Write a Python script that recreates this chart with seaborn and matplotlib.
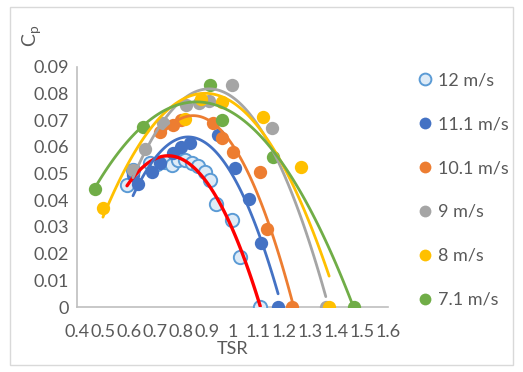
import matplotlib
matplotlib.use("Agg")
import matplotlib.pyplot as plt
from matplotlib.lines import Line2D
from matplotlib.patches import Rectangle
from matplotlib.ticker import FixedLocator, FuncFormatter
import numpy as np
import pandas as pd
import seaborn as sns

# Power coefficient vs tip speed ratio, one series per wind speed
tsr_12 = [0.593, 0.616, 0.682, 0.709, 0.740, 0.767, 0.790, 0.817, 0.844, 0.867, 0.894, 0.913, 0.937, 0.998, 1.029, 1.107]
cp_12 = [0.0457, 0.0514, 0.0540, 0.0536, 0.0544, 0.0532, 0.0551, 0.0551, 0.0540, 0.0529, 0.0506, 0.0476, 0.0386, 0.0326, 0.0187, 0.0]

tsr_111 = [0.616, 0.635, 0.690, 0.720, 0.770, 0.800, 0.836, 0.944, 1.010, 1.064, 1.110, 1.176]
cp_111 = [0.0495, 0.0460, 0.0505, 0.0540, 0.0575, 0.0600, 0.0615, 0.0645, 0.0520, 0.0405, 0.0240, 0.0]

tsr_101 = [0.720, 0.770, 0.800, 0.925, 0.960, 1.000, 1.107, 1.133, 1.230]
cp_101 = [0.0655, 0.0680, 0.0700, 0.0690, 0.0634, 0.0580, 0.0505, 0.0292, 0.0]

tsr_9 = [0.616, 0.663, 0.730, 0.820, 0.870, 0.910, 0.998, 1.153, 1.360]
cp_9 = [0.0514, 0.0592, 0.0690, 0.0755, 0.0765, 0.0770, 0.0832, 0.0671, 0.0]

tsr_8 = [0.500, 0.817, 0.880, 0.960, 1.118, 1.265, 1.373]
cp_8 = [0.0371, 0.0705, 0.0780, 0.0769, 0.0712, 0.0525, 0.0]

tsr_71 = [0.469, 0.655, 0.913, 0.960, 1.157, 1.470]
cp_71 = [0.0442, 0.0675, 0.0832, 0.0701, 0.0562, 0.0]

speeds = ["12 m/s", "11.1 m/s", "10.1 m/s", "9 m/s", "8 m/s", "7.1 m/s"]
tsr_all = [tsr_12, tsr_111, tsr_101, tsr_9, tsr_8, tsr_71]
cp_all = [cp_12, cp_111, cp_101, cp_9, cp_8, cp_71]

marker_face = ["#DEEBF7", "#4472C4", "#ED7D31", "#A5A5A5", "#FFC000", "#70AD47"]
marker_edge = ["#5B9BD5", "#4472C4", "#ED7D31", "#A5A5A5", "#FFC000", "#70AD47"]
trend_color = ["#FF0000", "#4472C4", "#ED7D31", "#A5A5A5", "#FFC000", "#70AD47"]

x_ticks = [0.4, 0.5, 0.6, 0.7, 0.8, 0.9, 1.0, 1.1, 1.2, 1.3, 1.4, 1.5, 1.6]
y_ticks = [0, 0.01, 0.02, 0.03, 0.04, 0.05, 0.06, 0.07, 0.08, 0.09]

df = pd.concat(
    [pd.DataFrame({"TSR": t, "Cp": c, "speed": s}) for t, c, s in zip(tsr_all, cp_all, speeds)],
    ignore_index=True,
)

sns.set_theme(style="white")
plt.rcParams["font.family"] = ["Lato", "DejaVu Sans"]
plt.rcParams["mathtext.fontset"] = "custom"
plt.rcParams["mathtext.rm"] = "Lato"
text_color = "#595959"
fs = 13

fig = plt.figure(figsize=(5.23, 3.72), dpi=100)
W, H = 523, 372
ax = fig.add_axes([77 / W, 1 - 307 / H, (388 - 77) / W, (307 - 66.7) / H])

for i, s in enumerate(speeds):
    sub = df[df["speed"] == s]
    sns.scatterplot(
        data=sub, x="TSR", y="Cp", ax=ax,
        color=marker_face[i], edgecolor=marker_edge[i],
        linewidth=1.4 if i == 0 else 0, s=92, zorder=3 + i * 0.01,
        legend=False,
    )

for i, s in enumerate(speeds):
    sub = df[df["speed"] == s]
    sns.regplot(
        data=sub, x="TSR", y="Cp", ax=ax, order=2, ci=None, scatter=False,
        truncate=True,
        line_kws={"color": trend_color[i], "lw": 2.4 if i == 0 else 2.0, "zorder": 5},
    )

ax.set_xlim(0.4, 1.6)
ax.set_ylim(0, 0.09)
ax.xaxis.set_major_locator(FixedLocator(x_ticks))
ax.yaxis.set_major_locator(FixedLocator(y_ticks))
ax.xaxis.set_major_formatter(FuncFormatter(lambda v, p: f"{v:g}"))
ax.yaxis.set_major_formatter(FuncFormatter(lambda v, p: f"{v:g}"))
ax.tick_params(axis="both", length=0, labelsize=fs, colors=text_color)
ax.tick_params(axis="y", pad=6)
ax.tick_params(axis="x", pad=12)
for name in ("top", "right"):
    ax.spines[name].set_visible(False)
for name in ("left", "bottom"):
    ax.spines[name].set_color("#BFBFBF")
    ax.spines[name].set_linewidth(1.2)
ax.set_xlabel("TSR", fontsize=fs, color=text_color, labelpad=1)
ax.set_ylabel("")
ax.grid(False)

fig.text(32 / W, 1 - 36 / H, r"C$_\mathregular{p}$", rotation=90, fontsize=14,
         color=text_color, ha="center", va="center")

handles = [
    Line2D([], [], linestyle="none", marker="o", markersize=8.5,
           markerfacecolor=marker_face[i], markeredgecolor=marker_edge[i],
           markeredgewidth=1.4 if i == 0 else 0)
    for i in range(len(speeds))
]
fig.legend(handles, speeds, loc="upper left", bbox_to_anchor=(408 / W, 1 - 63 / H),
           frameon=False, fontsize=fs, labelcolor=text_color, labelspacing=1.55,
           handlelength=0.9, handletextpad=0.25, borderpad=0)

fig.patches.append(Rectangle((10 / W, 7 / H), (513 - 10) / W, (365 - 7) / H,
                             transform=fig.transFigure, fill=False,
                             edgecolor="#D9D9D9", linewidth=1.0))

fig.savefig("out.png", dpi=100, facecolor="white")
